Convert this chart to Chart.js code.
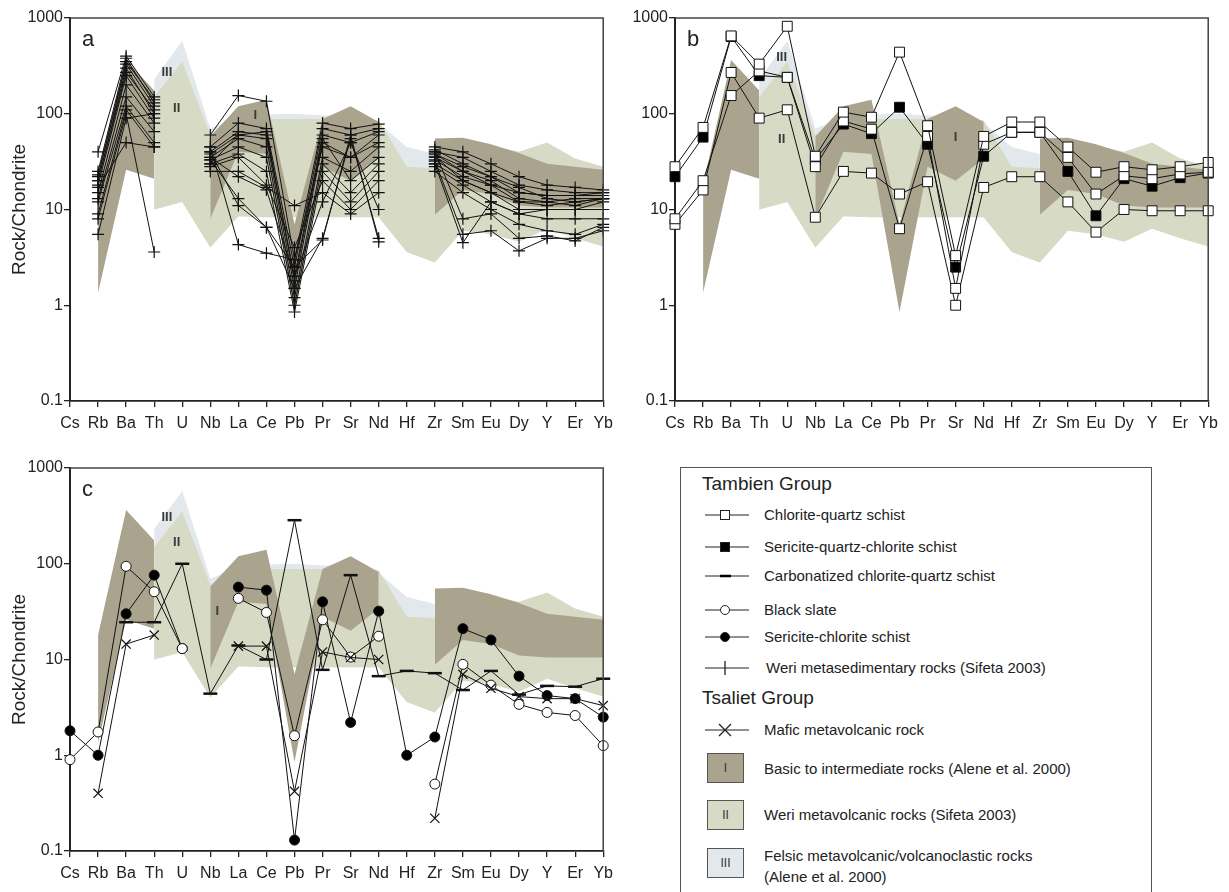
<!DOCTYPE html>
<html>
<head>
<meta charset="utf-8">
<script src="https://cdn.jsdelivr.net/npm/chart.js@4.4.1/dist/chart.umd.min.js"></script>
<style>
  body { margin:0; background:#fff; width:1229px; height:892px; position:relative; overflow:hidden;
         font-family:"Liberation Sans", Arial, sans-serif; color:#222; }
  canvas { position:absolute; }
  #legend { position:absolute; left:680px; top:467px; width:472px; height:440px;
            border:1.5px solid #555; box-sizing:border-box; }
  #legend .grp { position:absolute; left:21px; font-size:19px; line-height:22px; }
  #legend .sym { position:absolute; left:24px; }
  #legend .txt { position:absolute; left:83px; font-size:15px; line-height:18px; white-space:nowrap; }
  #legend .box { position:absolute; left:26px; width:37px; height:30px; border:1px solid #555;
                 box-sizing:border-box; font-size:12px; text-align:center; line-height:28px; color:#333; }
</style>
</head>
<body>
<canvas id="chartA" width="620" height="440" style="left:0;top:0"></canvas>
<canvas id="chartB" width="620" height="440" style="left:605px;top:0"></canvas>
<canvas id="chartC" width="620" height="442" style="left:0;top:450px"></canvas>

<div id="legend">
  <div class="grp" style="top:5px">Tambien Group</div>
  <svg class="sym" style="top:39px" width="44" height="16"><line x1="0" y1="8" x2="44" y2="8" stroke="#222"/><rect x="15.5" y="3.5" width="9" height="9" fill="#fff" stroke="#222"/></svg>
  <div class="txt" style="top:38px">Chlorite-quartz schist</div>
  <svg class="sym" style="top:71px" width="44" height="16"><line x1="0" y1="8" x2="44" y2="8" stroke="#222"/><rect x="15.5" y="3.5" width="9" height="9" fill="#000" stroke="#222"/></svg>
  <div class="txt" style="top:70px">Sericite-quartz-chlorite schist</div>
  <svg class="sym" style="top:100px" width="44" height="16"><line x1="0" y1="8" x2="44" y2="8" stroke="#222"/><line x1="15" y1="8" x2="26" y2="8" stroke="#000" stroke-width="2.5"/></svg>
  <div class="txt" style="top:99px">Carbonatized chlorite-quartz schist</div>
  <svg class="sym" style="top:134px" width="44" height="16"><line x1="0" y1="8" x2="44" y2="8" stroke="#222"/><circle cx="20" cy="8" r="4.5" fill="#fff" stroke="#222"/></svg>
  <div class="txt" style="top:133px">Black slate</div>
  <svg class="sym" style="top:161px" width="44" height="16"><line x1="0" y1="8" x2="44" y2="8" stroke="#222"/><circle cx="20" cy="8" r="4.5" fill="#000" stroke="#222"/></svg>
  <div class="txt" style="top:160px">Sericite-chlorite schist</div>
  <svg class="sym" style="top:192px" width="44" height="16"><line x1="0" y1="8" x2="44" y2="8" stroke="#222"/><line x1="20" y1="1" x2="20" y2="15" stroke="#222" stroke-width="1.3"/></svg>
  <div class="txt" style="top:191px;left:85px">Weri metasedimentary rocks (Sifeta 2003)</div>
  <div class="grp" style="top:219px">Tsaliet Group</div>
  <svg class="sym" style="top:254px" width="44" height="16"><line x1="0" y1="8" x2="44" y2="8" stroke="#222"/><path d="M14 2 L26 14 M26 2 L14 14" stroke="#222" stroke-width="1.3"/></svg>
  <div class="txt" style="top:253px">Mafic metavolcanic rock</div>
  <div class="box" style="top:285px;background:#aaa48f">I</div>
  <div class="txt" style="top:292px">Basic to intermediate rocks (Alene et al. 2000)</div>
  <div class="box" style="top:332px;background:#d7dac5">II</div>
  <div class="txt" style="top:338px">Weri metavolcanic rocks (Sifeta 2003)</div>
  <div class="box" style="top:380px;background:#e2e8ec">III</div>
  <div class="txt" style="top:379px">Felsic metavolcanic/volcanoclastic rocks</div>
  <div class="txt" style="top:400px">(Alene et al. 2000)</div>
</div>

<script>
// element order on the x axis
const CATS = ['Cs','Rb','Ba','Th','U','Nb','La','Ce','Pb','Pr','Sr','Nd','Hf','Zr','Sm','Eu','Dy','Y','Er','Yb'];
const Y_TICKS = [0.1, 1, 10, 100, 1000];

// reference fields (same in every panel)
const FIELD_I_TOP   = [null, 18, 365, 175, null, 58, 120, 140, 7, 88, 120, 82, null, 55, 56, 48, 39, 30, 28, 26];
const FIELD_I_BOT   = [null, 1.35, 26, 21, null, 8, 40, 38, 0.85, 28, 20, 34, null, 8.8, 16, 14.5, 11, 10.5, 10.5, 10.5];
const FIELD_II_TOP  = [null, null, null, 150, 350, 60, 85, 88, 88, 88, 88, 85, 28, 27, 52, 46, 40, 50, 34, 28];
const FIELD_II_BOT  = [null, null, null, 10, 12, 4, 8.5, 8.3, 8.3, 8.3, 8.3, 8.3, 3.6, 2.8, 6.0, 5.5, 4.6, 6.3, 5.0, 4.1];
const FIELD_III_TOP = [null, null, null, 230, 575, 70, 92, 98, 100, 96, 95, 80, 45, 38, null, null, null, null, null, null];
const FIELD_III_BOT = [null, null, null, 10, 12, 4, 8.5, 8.3, 8.3, 8.3, 8.3, 8.3, 3.6, 2.8, null, null, null, null, null, null];

// panel a: Weri metasedimentary rocks (Sifeta 2003)
const weriSamples = [
  [null, 40, 400, 150, null, 60, 155, 135, 3, 80, 70, 78, null, 45, 40, 30, 22, 18, 17, 16],
  [null, 23, 350, 140, null, 45, 80, 70, 2.5, 70, 60, 70, null, 40, 35, 25, 18, 16, 15, 15],
  [null, 22, 330, 120, null, 40, 65, 60, 2, 60, 50, 65, null, 38, 28, 22, 15, 14, 14, 14],
  [null, 20, 300, 100, null, 38, 60, 55, 1.5, 50, 35, 60, null, 35, 25, 20, 13, 12, 13, 13],
  [null, 18, 250, 90, null, 35, 55, 45, 1.2, 35, 25, 45, null, 33, 22, 18, 12, 11, 12, 13],
  [null, 15, 200, 80, null, 33, 45, 35, 1, 30, 15, 30, null, 30, 20, 15, 10, 10, 10, 12],
  [null, 13, 150, 65, null, 30, 38, 25, 0.85, 25, 12, 25, null, 28, 18, 12, 9, 8, 8, 8],
  [null, 12, 120, 50, null, 28, 35, 18, 4, 20, 10, 20, null, 25, 15, 10, 7, 6, 5.5, 7],
  [null, 9, 110, 45, null, 25, 25, 17, 11, 15, 9, 15, null, 40, 8, 9, 5, 5.3, 4.7, 6.5],
  [null, 8, 100, 3.6, null, 35, 22, 16, 2, 12, 50, 10, null, 32, 5.5, 6, 3.7, 5, 5, 6],
  [null, 5.5, 90, 100, null, 33, 13, 6.5, 1.5, 5, 55, 5, null, 30, 4.5, 12, 9, 10, 10, 10],
  [null, 17, 50, 45, null, 40, 11, 6.5, 2.5, 4.8, 60, 4.6, null, 38, 25, 18, 15, 14, 14, 15],
  [null, 25, 380, 130, null, 45, 4.3, 3.5, 3, 45, 35, 50, null, 42, 30, 22, 17, 13, 12, 13],
  [null, 20, 270, 110, null, 30, 60, 65, 1.8, 55, 20, 35, null, 36, 20, 15, 12, 12, 11, 13]
];

// panel b: Tambien Group schists
const chlQzA  = [28, 72, 650, 330, 820, 36, 104, 92, 440, 75, 3.3, 58, 82, 82, 45, 24.5, 28, 26, 28, 31];
const chlQzB  = [8, 20, 155, 280, 240, 28, 84, 69, 6.3, 58, 1.5, 48, 64, 64, 35, 14.5, 22.5, 21, 23.5, 24.5];
const chlQzC  = [7, 16, 270, 90, 110, 8.3, 25, 24, 14.5, 19.5, 1.0, 17, 22, 22, 12, 5.8, 10, 9.7, 9.7, 9.7];
const serQzCh = [22, 57, 640, 250, 240, 33, 78, 62, 117, 48, 2.5, 36, 64, 64, 25, 8.6, 21, 17.5, 21.5, 24];

// panel c: other Tambien rocks and Tsaliet mafic rock
const carbChlQz  = [null, null, 24.5, 24.5, 100, 4.4, 14, 10, 285, 7.8, 76, 6.7, 7.6, 7.2, 4.8, 7.6, 4.3, 5.3, 5.2, 6.3];
const blackSlate = [0.9, 1.75, 94, 51, 13, null, 43.5, 31, 1.6, 26, 10.6, 17.5, null, 0.5, 8.9, 5.4, 3.4, 2.8, 2.6, 1.26];
const sericiteCh = [1.8, 1.0, 30, 76, 13, null, 57, 53, 0.13, 40, 2.2, 32, 1.0, 1.55, 21, 16, 6.7, 4.2, 3.9, 2.5];
const maficVolc  = [null, 0.4, 14.5, 18, null, null, 13.8, 13.8, 0.42, 12, 10.5, 10, null, 0.22, 7, 5, 4.1, 3.9, 3.9, 3.3];

const COL_I = '#aaa48f', COL_II = '#d7dac5', COL_III = '#e2e8ec';
const FONT = '"Liberation Sans", Arial, sans-serif';

function fieldDatasets() {
    const edge = { borderColor: 'transparent', borderWidth: 0, pointRadius: 0, spanGaps: false, tension: 0 };
    return [
        Object.assign({ data: FIELD_III_TOP, fill: '+1', backgroundColor: COL_III, order: 30 }, edge),
        Object.assign({ data: FIELD_III_BOT, fill: false, order: 31 }, edge),
        Object.assign({ data: FIELD_II_TOP, fill: '+1', backgroundColor: COL_II, order: 20 }, edge),
        Object.assign({ data: FIELD_II_BOT, fill: false, order: 21 }, edge),
        Object.assign({ data: FIELD_I_TOP, fill: '+1', backgroundColor: COL_I, order: 10 }, edge),
        Object.assign({ data: FIELD_I_BOT, fill: false, order: 11 }, edge)
    ];
}

function series(data, style, order) {
    return Object.assign({
        data: data, fill: false, spanGaps: false, tension: 0, clip: false,
        borderColor: '#111', borderWidth: 1, pointBorderColor: '#111', pointBorderWidth: 1,
        order: order || 1
    }, style);
}

const STYLE = {
    weri:   { pointStyle: 'cross', pointRadius: 6, pointBorderWidth: 1.2 },
    sqOpen: { pointStyle: 'rect', pointRadius: 7, pointBackgroundColor: '#fff' },
    sqFull: { pointStyle: 'rect', pointRadius: 7, pointBackgroundColor: '#000' },
    ciOpen: { pointStyle: 'circle', pointRadius: 5, pointBackgroundColor: '#fff' },
    ciFull: { pointStyle: 'circle', pointRadius: 5, pointBackgroundColor: '#000' },
    dash:   { pointStyle: 'line', pointRadius: 7, pointBorderWidth: 2.5 },
    cross:  { pointStyle: 'crossRot', pointRadius: 6.5, pointBorderWidth: 1.2 }
};

// frame on top/right plus panel letter and field numerals
const framePlugin = {
    id: 'frame',
    afterDraw(chart, args, opts) {
        const ctx = chart.ctx, a = chart.chartArea;
        const x = chart.scales.x, y = chart.scales.y;
        ctx.save();
        ctx.strokeStyle = '#444';
        ctx.lineWidth = 1.5;
        ctx.beginPath();
        ctx.moveTo(a.left, a.top);
        ctx.lineTo(a.right, a.top);
        ctx.lineTo(a.right, a.bottom);
        ctx.stroke();
        ctx.fillStyle = '#222';
        ctx.font = '22px ' + FONT;
        ctx.textBaseline = 'middle';
        ctx.textAlign = 'left';
        ctx.fillText(opts.letter, a.left + 12, a.top + 22);
        ctx.font = 'bold 13px ' + FONT;
        ctx.fillStyle = '#3a3a3a';
        ctx.textAlign = 'center';
        opts.marks.forEach(m => {
            ctx.fillText(m.t, x.getPixelForValue(m.i), y.getPixelForValue(m.v));
        });
        ctx.restore();
    }
};

function makeChart(id, datasets, letter, marks, showTitle) {
    return new Chart(document.getElementById(id), {
        type: 'line',
        data: { labels: CATS, datasets: fieldDatasets().concat(datasets) },
        options: {
            responsive: false,
            animation: false,
            events: [],
            layout: { padding: { top: 18, right: 15, left: 0, bottom: 0 } },
            plugins: {
                legend: { display: false },
                tooltip: { enabled: false },
                frame: { letter: letter, marks: marks }
            },
            scales: {
                x: {
                    type: 'category',
                    offset: false,
                    afterFit: s => { s.height = id === 'chartC' ? 41 : 39; },
                    grid: { drawOnChartArea: false, drawTicks: true, tickLength: 6, color: '#222', lineWidth: 1.3 },
                    border: { display: true, color: '#222', width: 1.8 },
                    ticks: { autoSkip: false, maxRotation: 0, padding: 7, color: '#222', font: { family: FONT, size: 16 } }
                },
                y: {
                    type: 'logarithmic',
                    min: 0.1,
                    max: 1000,
                    afterFit: s => { s.width = 70; },
                    afterBuildTicks: s => { s.ticks = Y_TICKS.map(v => ({ value: v })); },
                    grid: { drawOnChartArea: false, drawTicks: true, tickLength: 6, color: '#222', lineWidth: 1.3 },
                    border: { display: true, color: '#222', width: 2 },
                    ticks: {
                        padding: 1, color: '#222', font: { family: FONT, size: 16 },
                        callback: v => String(v)
                    },
                    title: {
                        display: showTitle, text: 'Rock/Chondrite', color: '#222',
                        font: { family: FONT, size: 19 }, padding: { top: 8, bottom: 0 }
                    }
                }
            }
        },
        plugins: [framePlugin]
    });
}

makeChart('chartA',
    weriSamples.map(s => series(s, STYLE.weri)),
    'a',
    [{ t: 'III', i: 3.45, v: 273 }, { t: 'II', i: 3.8, v: 115 }, { t: 'I', i: 6.6, v: 97 }],
    true);

makeChart('chartB',
    [series(serQzCh, STYLE.sqFull, 2),
     series(chlQzA, STYLE.sqOpen), series(chlQzB, STYLE.sqOpen), series(chlQzC, STYLE.sqOpen)],
    'b',
    [{ t: 'III', i: 3.8, v: 390 }, { t: 'II', i: 3.8, v: 54 }, { t: 'I', i: 10, v: 57 }],
    false);

makeChart('chartC',
    [series(carbChlQz, STYLE.dash), series(maficVolc, STYLE.cross),
     series(blackSlate, STYLE.ciOpen), series(sericiteCh, STYLE.ciFull)],
    'c',
    [{ t: 'III', i: 3.45, v: 302 }, { t: 'II', i: 3.8, v: 166 }, { t: 'I', i: 5.25, v: 32 }],
    true);
</script>
</body>
</html>
